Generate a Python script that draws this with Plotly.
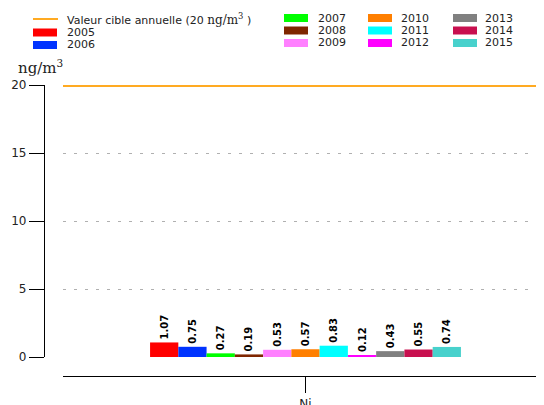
import plotly.graph_objects as go

W, H = 544, 405
OFF = 8  # the page body adds an 8px margin around the figure

pollutant = ["Ni"]
years = ["2005", "2006", "2007", "2008", "2009", "2010",
         "2011", "2012", "2013", "2014", "2015"]
values = [1.07, 0.75, 0.27, 0.19, 0.53, 0.57, 0.83, 0.12, 0.43, 0.55, 0.74]
colors = ["#ff0000", "#0033ff", "#00ff00", "#7f2600", "#ff80ff", "#ff7f00",
          "#00ffff", "#ff00ff", "#808080", "#c8104f", "#48d1cc"]
target_value = 20
target_color = "#ffaa22"
target_label = ("Valeur cible annuelle (20 <span style='font-family:DejaVu Serif;font-size:12px'>"
                "ng/m<sup>3</sup></span> )")
unit_label = "ng/m<sup>3</sup>"
y_ticks = [0, 5, 10, 15, 20]


def px_x(p):
    return (p - OFF) / W


def px_y(p):
    return 1 - (p - OFF) / H


fig = go.Figure()

for yr, v, c in zip(years, values, colors):
    fig.add_trace(go.Bar(
        x=pollutant, y=[v], name=yr, marker=dict(color=c, line=dict(width=0)),
        texttemplate="%{y:.2f}", textposition="outside", textangle=-90,
        textfont=dict(family="DejaVu Sans", size=10, color="black", weight="bold"),
        cliponaxis=False, showlegend=False,
    ))

# annual target line (half of the stroke is clipped at the top of the plot)
shapes = [dict(type="line", xref="x domain", yref="y", x0=0, x1=1,
               y0=target_value, y1=target_value, layer="below",
               line=dict(color=target_color, width=4))]
annotations = []
leg_font = dict(family="DejaVu Sans", size=11, color="#222")

entries = [("line", target_label, target_color)] + [
    ("rect", y, c) for y, c in zip(years, colors)]
col_specs = [
    (33, 65, [19, 32.5, 45]),
    (284, 316, [18, 30.5, 43]),
    (368, 399, [18, 30.5, 43]),
    (453, 483, [18, 30.5, 43]),
]
slots = [(sx, tx, r) for sx, tx, rows in col_specs for r in rows]

for (kind, label, c), (sx, tx, r) in zip(entries, slots):
    if kind == "line":
        shapes.append(dict(type="line", xref="paper", yref="paper",
                           x0=px_x(sx), x1=px_x(sx + 25), y0=px_y(r), y1=px_y(r),
                           line=dict(color=c, width=2)))
    else:
        shapes.append(dict(type="rect", xref="paper", yref="paper",
                           x0=px_x(sx), x1=px_x(sx + 24),
                           y0=px_y(r + 4), y1=px_y(r - 4),
                           fillcolor=c, line=dict(width=0)))
    annotations.append(dict(text=label, xref="paper", yref="paper",
                            x=px_x(tx), y=px_y(r), xanchor="left",
                            yanchor="middle", showarrow=False, font=leg_font))

annotations.append(dict(
    text=unit_label, xref="paper", yref="paper", x=px_x(40), y=px_y(55),
    xanchor="center", yanchor="top", showarrow=False,
    font=dict(family="DejaVu Serif", size=15, color="#222"),
))

xdom = [px_x(63), px_x(548)]
fig.update_layout(
    width=W, height=H,
    margin=dict(l=0, r=0, t=0, b=0, autoexpand=False),
    paper_bgcolor="white", plot_bgcolor="white",
    showlegend=False,
    barmode="group", bargap=0.359, bargroupgap=0,
    font=dict(family="DejaVu Sans", size=12, color="#222"),
    xaxis=dict(
        domain=xdom, anchor="free", position=px_y(376),
        showline=True, linecolor="black", linewidth=1.3,
        ticks="outside", ticklen=16, tickcolor="black", tickwidth=1.3,
        showgrid=False, zeroline=False,
        tickfont=dict(family="DejaVu Sans", size=12, color="#222"),
    ),
    yaxis=dict(
        domain=[px_y(357), px_y(85)], anchor="free", position=px_x(44),
        range=[0, 20], tickvals=y_ticks,
        showline=True, linecolor="black", linewidth=1.3,
        ticks="outside", ticklen=15, tickcolor="black", tickwidth=1.3,
        showgrid=True, gridcolor="#b0b0b0", gridwidth=1, griddash="3px,8px",
        zeroline=False,
        tickfont=dict(family="DejaVu Sans", size=12, color="#222"),
    ),
    shapes=shapes,
    annotations=annotations,
)

fig.write_html("out.html")
